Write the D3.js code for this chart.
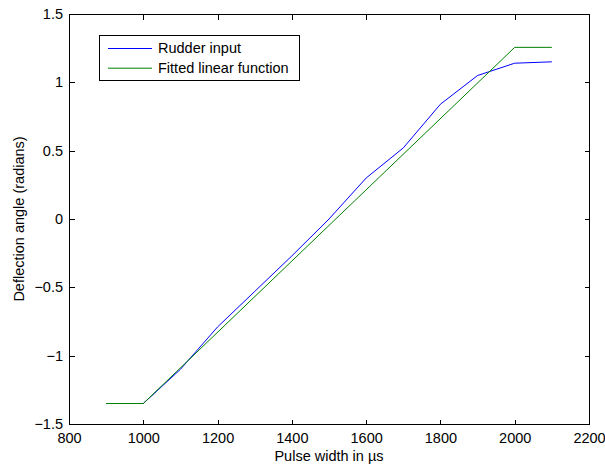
<!DOCTYPE html>
<html>
<head>
<meta charset="utf-8">
<script src="https://cdn.jsdelivr.net/npm/d3@7"></script>
<style>
  html, body { margin: 0; padding: 0; background: #fff; }
  svg { display: block; font-family: "Liberation Sans", Arial, Helvetica, sans-serif; }
  .axis path, .axis line { stroke: #000; shape-rendering: crispEdges; }
  .axis text { fill: #000; font-size: 14.5px; }
</style>
</head>
<body>
<svg id="chart" width="605" height="465"></svg>
<script>
// Pulse widths (µs) sampled for the rudder
const pulseWidths = [900, 1000, 1100, 1200, 1300, 1400, 1500, 1600, 1700, 1800, 1900, 2000, 2100];
// Measured rudder deflection (radians)
const rudderInput = [-1.35, -1.35, -1.10, -0.79, -0.53, -0.27, 0.00, 0.30, 0.52, 0.84, 1.05, 1.14, 1.15];
// Fitted linear function, saturated at both ends (breakpoints)
const fitPulse = [900, 1000, 2000, 2100];
const fitAngle = [-1.35, -1.35, 1.256, 1.256];

const xTicks = [800, 1000, 1200, 1400, 1600, 1800, 2000, 2200];
const yTicks = [-1.5, -1, -0.5, 0, 0.5, 1, 1.5];

const svg = d3.select("#chart");
const plotLeft = 69, plotRight = 589, plotTop = 14, plotBottom = 424;
const fontSize = "14.5px";

const x = d3.scaleLinear().domain([800, 2200]).range([plotLeft, plotRight]);
const y = d3.scaleLinear().domain([-1.5, 1.5]).range([plotBottom, plotTop]);

const fmtY = d => (d < 0 ? "\u2212" : "") + d3.format("")(Math.abs(d));

// Axes with inward ticks on all four sides
svg.append("g").attr("class", "axis")
  .attr("transform", `translate(0,${plotBottom + 0.5})`)
  .call(d3.axisBottom(x).tickValues(xTicks).tickSize(-5).tickPadding(8.5).tickFormat(d3.format("")))
  .call(g => g.select(".domain").remove());
svg.append("g").attr("class", "axis")
  .attr("transform", `translate(0,${plotTop + 0.5})`)
  .call(d3.axisTop(x).tickValues(xTicks).tickSize(-5).tickFormat(""))
  .call(g => g.select(".domain").remove());
svg.append("g").attr("class", "axis")
  .attr("transform", `translate(${plotLeft + 0.5},0)`)
  .call(d3.axisLeft(y).tickValues(yTicks).tickSize(-5).tickPadding(6.5).tickFormat(fmtY))
  .call(g => g.select(".domain").remove());
svg.append("g").attr("class", "axis")
  .attr("transform", `translate(${plotRight + 0.5},0)`)
  .call(d3.axisRight(y).tickValues(yTicks).tickSize(-5).tickFormat(""))
  .call(g => g.select(".domain").remove());

// Remove ticks at the frame corners
svg.selectAll(".axis .tick").filter(d => d === 800 || d === 2200 || d === -1.5 || d === 1.5)
  .select("line").remove();

// Plot frame
svg.append("rect")
  .attr("x", plotLeft + 0.5).attr("y", plotTop + 0.5)
  .attr("width", plotRight - plotLeft).attr("height", plotBottom - plotTop)
  .attr("fill", "none").attr("stroke", "#000").attr("stroke-width", 1)
  .attr("shape-rendering", "crispEdges");

// Data lines
const line = d3.line().x(d => x(d[0])).y(d => y(d[1]));
svg.append("path")
  .datum(pulseWidths.map((p, i) => [p, rudderInput[i]]))
  .attr("d", line).attr("fill", "none").attr("stroke", "#0000ff").attr("stroke-width", 1);
svg.append("path")
  .datum(fitPulse.map((p, i) => [p, fitAngle[i]]))
  .attr("d", line).attr("fill", "none").attr("stroke", "#008000").attr("stroke-width", 1);

// Axis titles
svg.append("text")
  .attr("x", (plotLeft + plotRight) / 2).attr("y", 460.5)
  .attr("text-anchor", "middle").attr("font-size", fontSize)
  .text("Pulse width in \u00b5s");
svg.append("text")
  .attr("transform", `translate(24,${(plotTop + plotBottom) / 2}) rotate(-90)`)
  .attr("text-anchor", "middle").attr("font-size", fontSize)
  .text("Deflection angle (radians)");

// Legend
const legendItems = [
  { label: "Rudder input", color: "#0000ff" },
  { label: "Fitted linear function", color: "#008000" }
];
const lg = svg.append("g");
lg.append("rect")
  .attr("x", 99.5).attr("y", 35.5).attr("width", 200).attr("height", 45)
  .attr("fill", "#fff").attr("stroke", "#000").attr("stroke-width", 1)
  .attr("shape-rendering", "crispEdges");
legendItems.forEach((it, i) => {
  const ly = 48.5 + i * 19.7;
  lg.append("line")
    .attr("x1", 108).attr("x2", 152).attr("y1", ly).attr("y2", ly)
    .attr("stroke", it.color).attr("stroke-width", 1);
  lg.append("text")
    .attr("x", 158).attr("y", ly + 4.5)
    .attr("font-size", fontSize)
    .text(it.label);
});
</script>
</body>
</html>
